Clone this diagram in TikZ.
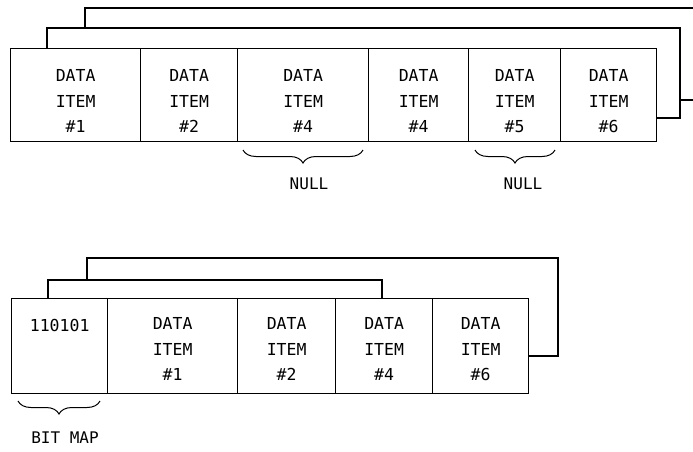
\documentclass[tikz,border=0pt]{standalone}
\usepackage{fontspec}
\newfontfamily\plotfont{DejaVu Sans Mono}
\usetikzlibrary{decorations.pathreplacing,calc}
\begin{document}
\begin{tikzpicture}[x=1pt,y=-1pt,
  cell/.style={draw,line width=1.3pt,inner sep=0pt,anchor=north west},
  ctext/.style={font=\plotfont\fontsize{16.5}{25.5}\selectfont,align=center,inner sep=0pt},
  wire/.style={line width=1.3pt,line join=miter},
  curly/.style={line width=1pt,decorate,decoration={brace,mirror,amplitude=13pt}},
  lbl/.style={font=\plotfont\fontsize{16}{25}\selectfont,inner sep=0pt}]
\useasboundingbox (0,0) rectangle (693,451);
% top row
\node[cell,minimum width=130,minimum height=93] (t1) at (10,48) {};
\node[cell,minimum width=97,minimum height=93] (t2) at (140,48) {};
\node[cell,minimum width=131,minimum height=93] (t3) at (237,48) {};
\node[cell,minimum width=100,minimum height=93] (t4) at (368,48) {};
\node[cell,minimum width=92,minimum height=93] (t5) at (468,48) {};
\node[cell,minimum width=96,minimum height=93] (t6) at (560,48) {};
\node[ctext] (tt1) at ([yshift=-6pt]t1.center) {DATA\\ITEM\\\#1};
\node[ctext] (tt2) at ([yshift=-6pt]t2.center) {DATA\\ITEM\\\#2};
\node[ctext] (tt3) at ([yshift=-6pt]t3.center) {DATA\\ITEM\\\#4};
\node[ctext] (tt4) at ([yshift=-6pt]t4.center) {DATA\\ITEM\\\#4};
\node[ctext] (tt5) at ([yshift=-6pt]t5.center) {DATA\\ITEM\\\#5};
\node[ctext] (tt6) at ([yshift=-6pt]t6.center) {DATA\\ITEM\\\#6};
\coordinate (ia) at (47,28); \coordinate (ib) at (680,28); \coordinate (ic) at (680,118);
\draw[wire] (ia |- t1.north) -- (ia) -- (ib) -- (ic) -- (ic -| t6.east);
\coordinate (oa) at (85,8); \coordinate (ob) at (693,8);
\draw[wire] (oa |- ia) -- (oa) -- (ob);
\coordinate (sa) at (680,100); \coordinate (sb) at (693,100);
\draw[wire] (sa) -- (sb);
\coordinate (br1a) at (243,150); \coordinate (br1b) at (363,150);
\draw[curly] (br1a) -- (br1b);
\node[lbl] (n1) at (309,184) {NULL};
\coordinate (br2a) at (475,150); \coordinate (br2b) at (555,150);
\draw[curly] (br2a) -- (br2b);
\node[lbl] (n2) at (523,184) {NULL};
% bottom row
\node[cell,minimum width=96,minimum height=95] (b1) at (11,298) {};
\node[cell,minimum width=130,minimum height=95] (b2) at (107,298) {};
\node[cell,minimum width=98,minimum height=95] (b3) at (237,298) {};
\node[cell,minimum width=97,minimum height=95] (b4) at (335,298) {};
\node[cell,minimum width=96,minimum height=95] (b5) at (432,298) {};
\node[ctext] (bt1) at ([yshift=21pt]b1.center) {110101};
\node[ctext] (bt2) at ([yshift=-3pt]b2.center) {DATA\\ITEM\\\#1};
\node[ctext] (bt3) at ([yshift=-3pt]b3.center) {DATA\\ITEM\\\#2};
\node[ctext] (bt4) at ([yshift=-3pt]b4.center) {DATA\\ITEM\\\#4};
\node[ctext] (bt5) at ([yshift=-3pt]b5.center) {DATA\\ITEM\\\#6};
\coordinate (ja) at (48,280); \coordinate (jb) at (382,280);
\draw[wire] (ja |- b1.north) -- (ja) -- (jb) -- (jb |- b4.north);
\coordinate (ka) at (87,258); \coordinate (kb) at (558,258); \coordinate (kc) at (558,356);
\draw[wire] (ka |- ja) -- (ka) -- (kb) -- (kc) -- (kc -| b5.east);
\coordinate (br3a) at (18,401); \coordinate (br3b) at (100,401);
\draw[curly] (br3a) -- (br3b);
\node[lbl] (bm) at (65,438) {BIT MAP};
\end{tikzpicture}
\end{document}
